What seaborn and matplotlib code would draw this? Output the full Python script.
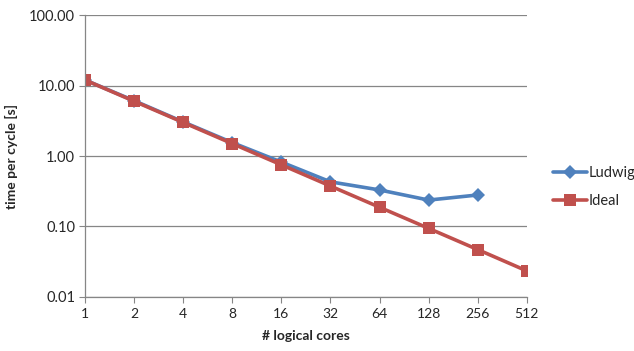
import matplotlib
matplotlib.use("Agg")
import matplotlib.pyplot as plt
import matplotlib.ticker as mticker
import seaborn as sns
import pandas as pd

cores = [1, 2, 4, 8, 16, 32, 64, 128, 256, 512]
ludwig = [12.0, 6.1, 3.05, 1.55, 0.82, 0.43, 0.33, 0.237, 0.28]
ideal = [12.0, 6.0, 3.0, 1.5, 0.75, 0.375, 0.1875, 0.094, 0.047, 0.0234]
series_names = ["Ludwig", "Ideal"]
y_ticks = [0.01, 0.1, 1, 10, 100]

df = pd.DataFrame({
    "cores": cores[:len(ludwig)] + cores,
    "time": ludwig + ideal,
    "series": [series_names[0]] * len(ludwig) + [series_names[1]] * len(ideal),
})

sns.set_style("white")
plt.rcParams["font.family"] = ["Lato", "DejaVu Sans"]

fig = plt.figure(figsize=(6.34, 3.51), dpi=100)
ax = fig.add_axes([0.134, 0.154, 0.697, 0.803])

palette = {"Ludwig": "#4F81BD", "Ideal": "#C0504D"}
markers = {"Ludwig": "D", "Ideal": "s"}
marker_sizes = {"Ludwig": 7.4, "Ideal": 8.0}

for name in series_names:
    sns.lineplot(
        data=df[df["series"] == name], x="cores", y="time",
        color=palette[name], marker=markers[name], label=name,
        linewidth=2.6, markersize=marker_sizes[name], markeredgewidth=0,
        ax=ax,
    )

ax.set_xscale("log", base=2)
ax.set_yscale("log")
ax.set_xlim(1, 512)
ax.set_ylim(0.01, 100)
ax.set_xticks(cores)
ax.xaxis.set_major_formatter(mticker.FixedFormatter([str(c) for c in cores]))
ax.xaxis.set_minor_locator(mticker.NullLocator())
ax.set_yticks(y_ticks)
ax.yaxis.set_major_formatter(mticker.FixedFormatter(["0.01", "0.10", "1.00", "10.00", "100.00"]))
ax.yaxis.set_minor_locator(mticker.NullLocator())

ax.grid(axis="y", color="#868686", linewidth=0.9)
ax.grid(axis="x", visible=False)
for side in ["top", "right"]:
    ax.spines[side].set_visible(False)
for side in ["left", "bottom"]:
    ax.spines[side].set_color("#868686")
    ax.spines[side].set_linewidth(0.9)

ax.tick_params(axis="x", direction="out", length=4, color="#868686", labelsize=10, pad=4, bottom=True)
ax.tick_params(axis="y", direction="out", length=4, color="#868686", labelsize=10.5, pad=3, left=True)

ax.set_xlabel("# logical cores", fontsize=10, fontweight="bold", labelpad=7)
ax.set_ylabel("time per cycle [s]", fontsize=10, fontweight="bold", labelpad=8)

handles, labels = ax.get_legend_handles_labels()
ax.legend(handles, labels, loc="center left", bbox_to_anchor=(1.03, 0.39),
          frameon=False, fontsize=10.5, handlelength=2.3, handletextpad=0.1,
          labelspacing=1.0)

fig.savefig("out.png", dpi=100)
